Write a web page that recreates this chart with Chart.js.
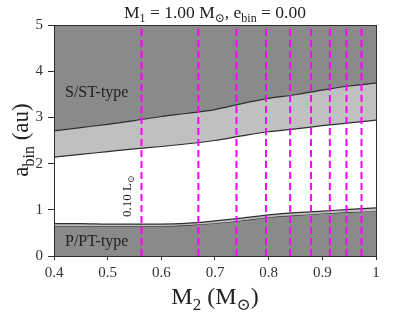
<!DOCTYPE html>
<html>
<head>
<meta charset="utf-8">
<script src="https://cdn.jsdelivr.net/npm/chart.js@4.4.1/dist/chart.umd.min.js"></script>
<style>
  html, body { margin: 0; padding: 0; background: #fff; }
  #wrap { width: 415px; height: 312px; }
</style>
</head>
<body>
<div id="wrap"><canvas id="chart" width="415" height="312"></canvas></div>
<script>
// secondary-star mass grid (M_sun)
const massGrid = [0.4, 0.45, 0.5, 0.55, 0.6, 0.65, 0.7, 0.75, 0.8, 0.85, 0.9, 0.95, 1.0];
// S/ST-type stability limit (upper edge of light band)
const sTypeLimit = [2.71, 2.78, 2.85, 2.93, 3.02, 3.09, 3.17, 3.30, 3.41, 3.49, 3.59, 3.68, 3.74];
// lower edge of light band
const sTypeInner = [2.14, 2.20, 2.26, 2.32, 2.37, 2.43, 2.50, 2.60, 2.69, 2.75, 2.82, 2.88, 2.94];
// P/PT-type limit (thin band)
const pTypeOuter = [0.70, 0.70, 0.69, 0.69, 0.69, 0.71, 0.76, 0.82, 0.89, 0.94, 0.97, 1.01, 1.04];
const pTypeInner = [0.65, 0.65, 0.65, 0.65, 0.65, 0.67, 0.71, 0.77, 0.84, 0.88, 0.92, 0.95, 0.97];
// masses of constant luminosity 0.1 ... 0.9 L_sun
const lumMasses = [0.563, 0.669, 0.740, 0.795, 0.840, 0.879, 0.914, 0.945, 0.973];
const xTicks = [0.4, 0.5, 0.6, 0.7, 0.8, 0.9, 1.0];
const yTicks = [0, 1, 2, 3, 4, 5];

const darkGray = "#8a8a8a";
const lightGray = "#c0c0c0";
const edge = "#2e2e2e";
const serif = "'Liberation Serif', 'DejaVu Serif', serif";

function pts(ys) {
  return massGrid.map((m, i) => ({ x: m, y: ys[i] }));
}

function boundary(data, fill, color) {
  return {
    data: pts(data),
    fill,
    backgroundColor: color,
    borderColor: edge,
    borderWidth: 1.2,
    pointRadius: 0,
    cubicInterpolationMode: "monotone",
    order: 1
  };
}

const datasets = [
  boundary(sTypeLimit, "end", darkGray),
  boundary(sTypeInner, 0, lightGray),
  boundary(pTypeOuter, 3, lightGray),
  boundary(pTypeInner, "origin", darkGray)
];

for (const m of lumMasses) {
  datasets.push({
    data: [{ x: m, y: 0 }, { x: m, y: 5 }],
    borderColor: "#ff00ff",
    borderWidth: 2,
    borderDash: [7, 4],
    pointRadius: 0,
    fill: false,
    order: -1
  });
}

// draw text pieces with subscripts
function richText(ctx, parts, size) {
  let w = 0;
  for (const p of parts) {
    ctx.font = `${p.sub ? Math.round(size * 0.7) : size}px ${serif}`;
    p.w = ctx.measureText(p.t).width;
    w += p.w;
  }
  return w;
}

function drawRich(ctx, parts, x, y, size) {
  let cx = x;
  for (const p of parts) {
    ctx.font = `${p.sub ? Math.round(size * 0.7) : size}px ${serif}`;
    ctx.fillText(p.t, cx, p.sub ? y + size * 0.25 : y);
    cx += p.w;
  }
}

function centeredRich(ctx, parts, x, y, size) {
  ctx.textAlign = "left";
  ctx.textBaseline = "alphabetic";
  const w = richText(ctx, parts, size);
  drawRich(ctx, parts, x - w / 2, y, size);
}

const decorations = {
  id: "decorations",
  afterDraw(chart) {
    const { ctx, chartArea: a } = chart;
    ctx.save();
    ctx.strokeStyle = edge;
    ctx.lineWidth = 1;
    ctx.strokeRect(Math.round(a.left) + 0.5, Math.round(a.top) + 0.5,
      Math.round(a.right - a.left), Math.round(a.bottom - a.top));

    ctx.fillStyle = "#222";
    const mid = (a.left + a.right) / 2;
    centeredRich(ctx, [
      { t: "M" }, { t: "1", sub: true }, { t: " = 1.00 M" }, { t: "\u2299", sub: true },
      { t: ", e" }, { t: "bin", sub: true }, { t: " = 0.00" }
    ], mid, 18, 17.5);

    centeredRich(ctx, [
      { t: "M" }, { t: "2", sub: true }, { t: " (M" }, { t: "\u2299", sub: true }, { t: ")" }
    ], mid, 304, 24);

    ctx.save();
    ctx.translate(28, 140);
    ctx.rotate(-Math.PI / 2);
    centeredRich(ctx, [{ t: "a" }, { t: "bin", sub: true }, { t: " (au)" }], 0, 0, 23);
    ctx.restore();

    ctx.font = `16px ${serif}`;
    ctx.textAlign = "left";
    ctx.fillText("S/ST-type", 65, 97);
    ctx.fillText("P/PT-type", 65, 246);

    ctx.save();
    ctx.translate(131, 217);
    ctx.rotate(-Math.PI / 2);
    const lum = [{ t: "0.10 L" }, { t: "\u2299", sub: true }];
    richText(ctx, lum, 13);
    drawRich(ctx, lum, 0, 0, 13);
    ctx.restore();

    ctx.restore();
  }
};

new Chart(document.querySelector("#chart"), {
  type: "line",
  data: { datasets },
  options: {
    responsive: false,
    animation: false,
    layout: { padding: { top: 25, right: 39, left: 0, bottom: 0 } },
    plugins: { legend: { display: false }, tooltip: { enabled: false } },
    scales: {
      x: {
        type: "linear",
        min: 0.4,
        max: 1.0,
        afterBuildTicks: (scale) => { scale.ticks = xTicks.map((v) => ({ value: v })); },
        afterFit: (scale) => { scale.height = 56; },
        ticks: {
          color: "#333",
          font: { family: serif, size: 15 },
          padding: 4,
          maxRotation: 0,
          callback: (v) => (v === 1 ? "1" : v.toFixed(1))
        },
        grid: { drawOnChartArea: false, tickLength: 4, color: edge },
        border: { color: edge }
      },
      y: {
        min: 0,
        max: 5,
        afterBuildTicks: (scale) => { scale.ticks = yTicks.map((v) => ({ value: v })); },
        afterFit: (scale) => { scale.width = 54; },
        ticks: {
          color: "#333",
          font: { family: serif, size: 15 },
          padding: 5
        },
        grid: { drawOnChartArea: false, tickLength: 6, color: edge },
        border: { color: edge }
      }
    }
  },
  plugins: [decorations]
});
</script>
</body>
</html>
